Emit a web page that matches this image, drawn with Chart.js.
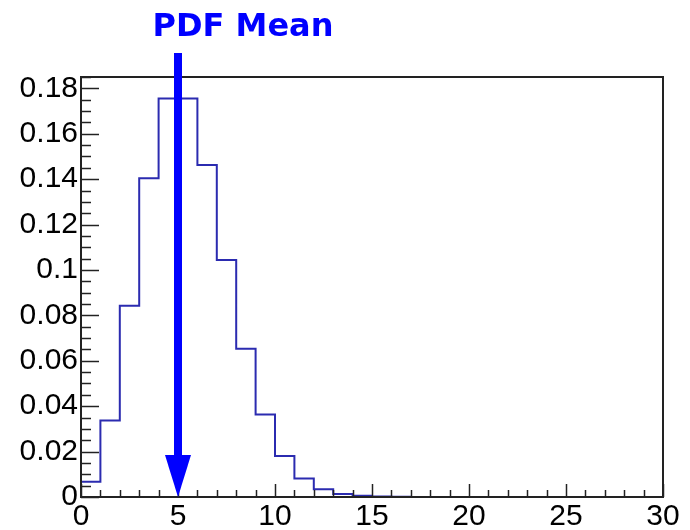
<!DOCTYPE html>
<html>
<head>
<meta charset="utf-8">
<script src="https://cdn.jsdelivr.net/npm/chart.js@4/dist/chart.umd.min.js"></script>
<style>
  html, body { margin: 0; padding: 0; background: #fff; }
  #wrap { position: relative; width: 690px; height: 530px; }
  #title {
    position: absolute; left: 0; top: 6px; width: 486px; text-align: center;
    font: bold 32px "DejaVu Sans", sans-serif; color: #0000ff;
  }
</style>
</head>
<body>
<div id="wrap">
  <canvas id="chart" width="690" height="530"></canvas>
  <div id="title">PDF Mean</div>
</div>
<script>
// bin lower edges and bin contents
const binEdges = [0, 1, 2, 3, 4, 5, 6, 7, 8, 9, 10, 11, 12, 13, 14, 15, 16, 17, 18, 19, 20,
    21, 22, 23, 24, 25, 26, 27, 28, 29, 30];
const binValues = [0.0067, 0.0337, 0.0842, 0.1404, 0.1755, 0.1755, 0.1462, 0.1044, 0.0653,
    0.0363, 0.0181, 0.0082, 0.0034, 0.0013, 0.0005, 0.0002, 0.0001, 0, 0, 0,
    0, 0, 0, 0, 0, 0, 0, 0, 0, 0];
const xTicks = [0, 5, 10, 15, 20, 25, 30];
const yTicks = [0, 0.02, 0.04, 0.06, 0.08, 0.1, 0.12, 0.14, 0.16, 0.18];
const pdfMean = 5;
const xMax = 30;
const yMax = 0.185;

// stepped points: one per bin, plus the closing edge
const points = binValues.map((v, i) => ({ x: binEdges[i], y: v }));
points.push({ x: binEdges[binEdges.length - 1], y: binValues[binValues.length - 1] });

// frame, inside ticks and the mean arrow
const frameAndArrow = {
    id: 'frameAndArrow',
    afterDatasetsDraw(chart) {
        const ctx = chart.ctx;
        const a = chart.chartArea;
        const xs = chart.scales.x;
        const ys = chart.scales.y;
        ctx.save();
        ctx.strokeStyle = '#222';
        ctx.lineWidth = 1.5;
        // y ticks
        for (let i = 0; i <= Math.round(yMax / 0.005); i++) {
            const v = i * 0.005;
            const y = Math.round(ys.getPixelForValue(v)) + 0.5;
            const len = i % 4 === 0 ? 18 : 10;
            ctx.beginPath();
            ctx.moveTo(a.left, y);
            ctx.lineTo(a.left + len, y);
            ctx.stroke();
        }
        // x ticks
        for (let i = 0; i <= xMax; i++) {
            const x = Math.round(xs.getPixelForValue(i)) + 0.5;
            const len = i % 5 === 0 ? 13 : 7;
            ctx.beginPath();
            ctx.moveTo(x, a.bottom);
            ctx.lineTo(x, a.bottom - len);
            ctx.stroke();
        }
        ctx.lineWidth = 2;
        ctx.strokeRect(a.left, a.top, a.right - a.left, a.bottom - a.top);

        // arrow at the mean
        const mx = xs.getPixelForValue(pdfMean);
        const tip = ys.getPixelForValue(0);
        ctx.fillStyle = '#0000ff';
        ctx.fillRect(mx - 4, 53, 8, tip - 42 - 53);
        ctx.beginPath();
        ctx.moveTo(mx - 13, tip - 42);
        ctx.lineTo(mx + 13, tip - 42);
        ctx.lineTo(mx, tip);
        ctx.closePath();
        ctx.fill();
        ctx.restore();
    }
};

const tickFont = { family: '"Liberation Sans", Arial, sans-serif', size: 30 };

new Chart(document.getElementById('chart'), {
    type: 'line',
    data: {
        datasets: [{
            data: points,
            stepped: 'before',
            borderColor: '#2b2bb0',
            borderWidth: 2,
            pointRadius: 0,
            fill: false,
        }],
    },
    options: {
        responsive: false,
        animation: false,
        layout: { padding: { top: 77, right: 27, left: 0, bottom: 0 } },
        plugins: {
            legend: { display: false },
            tooltip: { enabled: false },
        },
        scales: {
            x: {
                type: 'linear',
                min: 0,
                max: xMax,
                grid: { display: false, drawTicks: false },
                border: { display: false },
                afterBuildTicks(scale) { scale.ticks = xTicks.map((v) => ({ value: v })); },
                ticks: {
                    padding: 2,
                    autoSkip: false,
                    maxRotation: 0,
                    color: '#000',
                    font: tickFont,
                    callback: (v) => String(v),
                },
                afterFit(scale) { scale.height = 33; },
            },
            y: {
                min: 0,
                max: yMax,
                grid: { display: false, drawTicks: false },
                border: { display: false },
                afterBuildTicks(scale) { scale.ticks = yTicks.map((v) => ({ value: v })); },
                ticks: {
                    padding: 3,
                    autoSkip: false,
                    color: '#000',
                    font: tickFont,
                    callback: (v) => String(+v.toFixed(2)),
                },
                afterFit(scale) { scale.width = 81; },
            },
        },
    },
    plugins: [frameAndArrow],
});
</script>
</body>
</html>
